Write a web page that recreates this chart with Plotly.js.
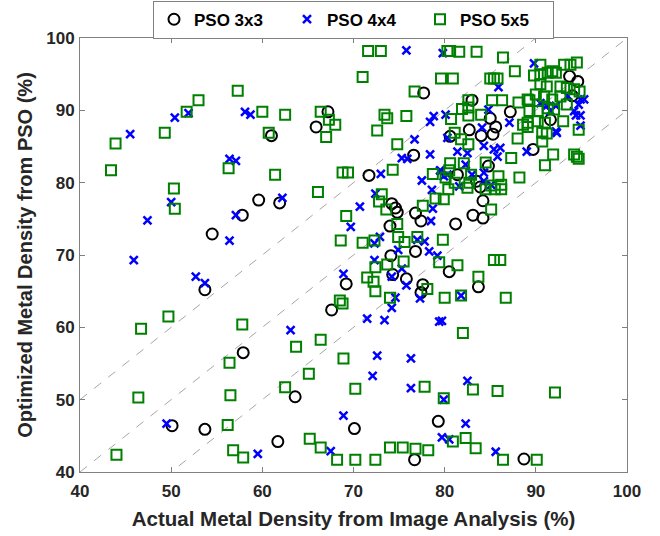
<!DOCTYPE html>
<html><head><meta charset="utf-8">
<script src="https://cdn.plot.ly/plotly-3.0.1.min.js"></script>
<style>html,body{margin:0;padding:0;background:#fff}</style>
</head><body><div id="chart" style="width:660px;height:536px"></div>
<script>
// ---- data ----
const seriesNames = ['PSO 3x3', 'PSO 4x4', 'PSO 5x5'];

const x3 = [59.6,57.8,54.5,53.7,57.9,50.1,53.7,
  67.2,65.9,61.0,77.7,76.6,71.7,61.9,74.2,74.6,74.8,76.8,77.4,74.0,76.8,74.1,
  74.3,75.8,69.2,77.6,77.4,67.6,63.6,70.1,79.3,61.7,76.7,
  80.5,83.7,88.7,
  83.0,87.2,85.0,85.6,82.7,80.6,84.0,85.3,89.7,91.6,84.8,81.4,83.5,83.9,84.2,83.1,84.2,81.2,
  93.7,94.6,94.0];
const y3 = [77.6,75.5,72.9,65.2,56.5,46.4,45.9,
  89.8,87.7,86.5,92.4,83.8,81.0,77.2,77.1,76.5,75.9,75.8,74.7,74.0,70.5,69.9,
  67.3,66.7,66.0,65.9,64.8,62.4,50.4,46.0,47.0,44.2,41.7,
  67.7,65.6,41.8,
  91.4,89.8,88.9,87.7,87.3,86.4,86.5,86.7,84.6,88.7,82.3,81.1,80.2,79.4,77.5,75.5,75.1,74.3,
  94.7,94.0,92.0];

const x4 = [51.9,50.4,45.5,58.1,58.7,56.4,57.1,50.0,47.4,57.1,56.4,45.9,
  52.7,53.7,49.5,59.5,
  75.8,79.8,78.8,78.4,76.7,75.3,75.9,78.4,73.0,77.5,79.5,78.6,62.2,72.4,70.7,78.7,78.5,69.7,72.3,72.9,77.0,77.8,74.9,78.3,79.2,
  72.3,75.3,68.9,74.2,75.8,74.6,77.3,74.2,71.5,73.4,79.4,63.1,72.6,76.3,72.1,76.3,68.9,79.7,67.5,
  81.8,79.7,82.5,79.9,82.3,80.5,85.6,
  89.8,85.9,84.8,80.1,87.1,84.1,80.3,81.4,82.5,84.3,85.4,86.1,85.8,89.0,94.9,92.3,79.6,79.9,81.6,82.3,84.3,85.1,80.3,83.0,84.3,
  94.9,94.7,94.2,92.2,94.9,94.4,95.3,90.5,91.2,91.6,92.2,93.5];
const y4 = [89.6,89.0,86.7,89.8,89.4,83.3,83.0,77.3,74.8,75.5,72.0,69.3,
  67.0,66.1,46.7,42.5,
  98.3,97.9,89.2,88.4,86.0,83.4,83.3,83.9,81.2,80.3,81.7,79.0,77.9,78.5,76.7,76.4,74.7,73.9,71.6,72.5,72.1,71.9,70.7,70.5,69.9,
  69.3,68.1,67.4,67.0,65.8,64.1,64.0,62.7,61.2,61.0,60.8,59.6,56.1,55.7,53.3,51.6,47.8,44.8,42.9,
  64.4,60.9,52.6,50.0,46.7,44.5,42.8,
  96.5,93.2,90.1,89.4,88.3,87.6,86.2,84.3,84.1,85.1,84.6,84.8,83.6,84.3,87.9,86.9,81.6,80.9,79.5,82.5,81.4,79.7,81.1,81.1,80.2,
  91.5,90.8,89.9,87.1,89.3,89.3,91.5,91.0,90.6,89.9,90.6,92.0];

const x5 = [57.3,53.0,51.7,49.3,43.9,43.4,60.0,56.3,50.3,50.4,
  49.7,46.7,57.8,56.4,56.5,46.4,56.2,44.0,56.8,57.9,
  71.6,73.0,71.0,79.6,76.7,62.5,66.4,67.3,68.0,67.0,60.7,73.4,73.7,75.8,72.6,74.8,74.3,68.8,69.4,61.4,78.7,66.1,73.1,72.8,73.6,77.6,79.0,69.2,74.8,68.6,71.0,72.3,74.9,75.6,77.0,
  73.7,75.5,72.4,79.4,71.5,72.2,78.1,72.4,74.0,68.5,68.8,66.4,63.7,68.9,65.1,62.5,70.2,77.8,65.2,66.4,68.2,70.2,72.4,74.0,75.4,76.8,78.2,
  81.4,85.4,86.1,83.7,80.0,81.8,86.7,82.0,83.1,85.8,92.1,79.9,80.9,82.3,83.4,86.4,90.1,
  80.3,80.6,81.6,83.5,86.4,87.7,89.8,80.9,85.0,85.4,85.8,82.6,82.6,81.9,82.6,85.2,86.3,88.1,89.3,80.7,84.0,89.3,81.1,81.8,82.6,88.6,89.1,88.0,87.3,91.9,91.0,88.2,94.5,94.2,94.7,94.7,93.0,91.0,90.7,91.2,90.2,
  80.6,82.1,84.5,80.5,80.1,82.9,82.7,82.5,81.1,80.4,84.5,85.1,85.5,86.2,86.2,85.9,85.1,79.9,79.8,
  90.5,90.5,91.3,91.8,92.2,93.1,93.8,94.5,90.5,91.2,92.7,93.4,94.2,94.8,89.1,90.0,90.9,91.8,92.7,93.4,90.2,91.3,92.0,89.1,90.7];
const y5 = [92.7,91.4,89.8,86.9,85.4,81.7,89.8,82.0,79.2,76.4,
  61.5,59.8,60.4,55.1,50.6,50.3,46.5,42.4,43.0,42.0,
  98.2,98.2,94.6,94.4,92.6,89.4,89.8,88.7,88.0,86.3,86.9,89.4,88.9,89.2,87.2,85.3,81.8,81.4,81.4,81.1,81.2,78.7,78.4,77.4,76.3,76.8,77.8,75.4,74.3,72.0,71.7,72.0,72.5,71.8,72.5,
  68.7,69.1,68.3,69.0,66.9,66.3,65.3,65.0,64.1,63.7,63.3,58.3,57.3,55.7,53.6,51.7,51.5,51.8,44.6,43.4,41.7,41.7,41.7,43.4,43.4,43.2,43.0,
  68.6,69.3,69.3,67.0,64.1,64.4,64.1,59.2,51.4,51.2,51.0,50.2,44.2,44.7,43.3,41.7,41.7,
  98.2,98.2,98.1,98.1,97.3,95.4,94.8,94.4,94.4,94.4,94.4,91.4,90.4,90.2,89.3,91.4,91.4,91.1,91.4,88.8,89.4,89.9,86.9,86.0,85.3,88.0,87.7,86.1,83.4,83.9,82.4,80.7,83.6,83.9,83.3,87.3,88.5,88.3,86.9,86.8,88.5,
  82.7,82.7,82.8,81.7,80.7,81.1,80.0,79.3,80.0,79.1,79.1,79.6,79.1,79.7,79.1,80.9,76.3,77.7,72.1,
  96.3,95.0,95.2,95.4,95.2,96.3,96.3,96.6,93.6,93.3,93.3,93.1,92.9,92.6,91.5,92.2,91.9,91.5,91.9,90.8,89.9,90.3,90.1,88.3,85.7];

const refOffsets = [10, 0, -10];   // y = x + offset guide lines
const axisRange = [40, 100];
const tickVals = [40, 50, 60, 70, 80, 90, 100];

// ---- figure ----
const FONT = 'Arial, "Liberation Sans", sans-serif';
const traces = [];
refOffsets.forEach(off => {
  traces.push({
    x: axisRange, y: axisRange.map(v => v + off),
    mode: 'lines', type: 'scatter', showlegend: false, hoverinfo: 'skip',
    line: {color: '#a6a6a6', width: 1, dash: 'dash'}
  });
});
traces.push({
  x: x3, y: y3, name: seriesNames[0], type: 'scatter', mode: 'markers',
  marker: {symbol: 'circle-open', size: 11, color: '#000000', line: {width: 2, color: '#000000'}}
});
traces.push({
  x: x4, y: y4, name: seriesNames[1], type: 'scatter', mode: 'markers',
  marker: {symbol: 'x-thin-open', size: 8, color: '#0000ff', line: {width: 2.5, color: '#0000ff'}}
});
traces.push({
  x: x5, y: y5, name: seriesNames[2], type: 'scatter', mode: 'markers',
  marker: {symbol: 'square-open', size: 10, color: '#008000', line: {width: 2, color: '#008000'}}
});

const axisCommon = {
  range: axisRange, tickvals: tickVals, ticks: 'inside', ticklen: 5, tickwidth: 1,
  tickcolor: '#808080', showline: true, linecolor: '#808080', linewidth: 1,
  mirror: 'ticks', showgrid: false, zeroline: false, automargin: false,
  tickfont: {family: FONT, size: 17, color: '#262626', weight: 'bold'}
};

const layout = {
  width: 660, height: 536,
  margin: {l: 80, r: 33, t: 38, b: 64, autoexpand: false},
  paper_bgcolor: '#ffffff', plot_bgcolor: '#ffffff',
  showlegend: true,
  xaxis: Object.assign({}, axisCommon, {
    ticklabelstandoff: 4,
    title: {text: 'Actual Metal Density from Image Analysis (%)', standoff: 11,
            font: {family: FONT, size: 20.5, color: '#262626', weight: 'bold'}}
  }),
  yaxis: Object.assign({}, axisCommon, {
    ticklabelstandoff: 1,
    title: {text: 'Optimized Metal Density from PSO (%)', standoff: 8,
            font: {family: FONT, size: 20, color: '#262626', weight: 'bold'}}
  }),
  legend: {
    orientation: 'h', x: 0.5, xanchor: 'center', y: 1.086, yanchor: 'top',
    bordercolor: '#808080', borderwidth: 1, bgcolor: '#ffffff',
    font: {family: FONT, size: 17, color: '#000000', weight: 'bold'},
    entrywidth: 88, entrywidthmode: 'pixels'
  }
};

Plotly.newPlot('chart', traces, layout, {displayModeBar: false, staticPlot: true});
</script></body></html>
